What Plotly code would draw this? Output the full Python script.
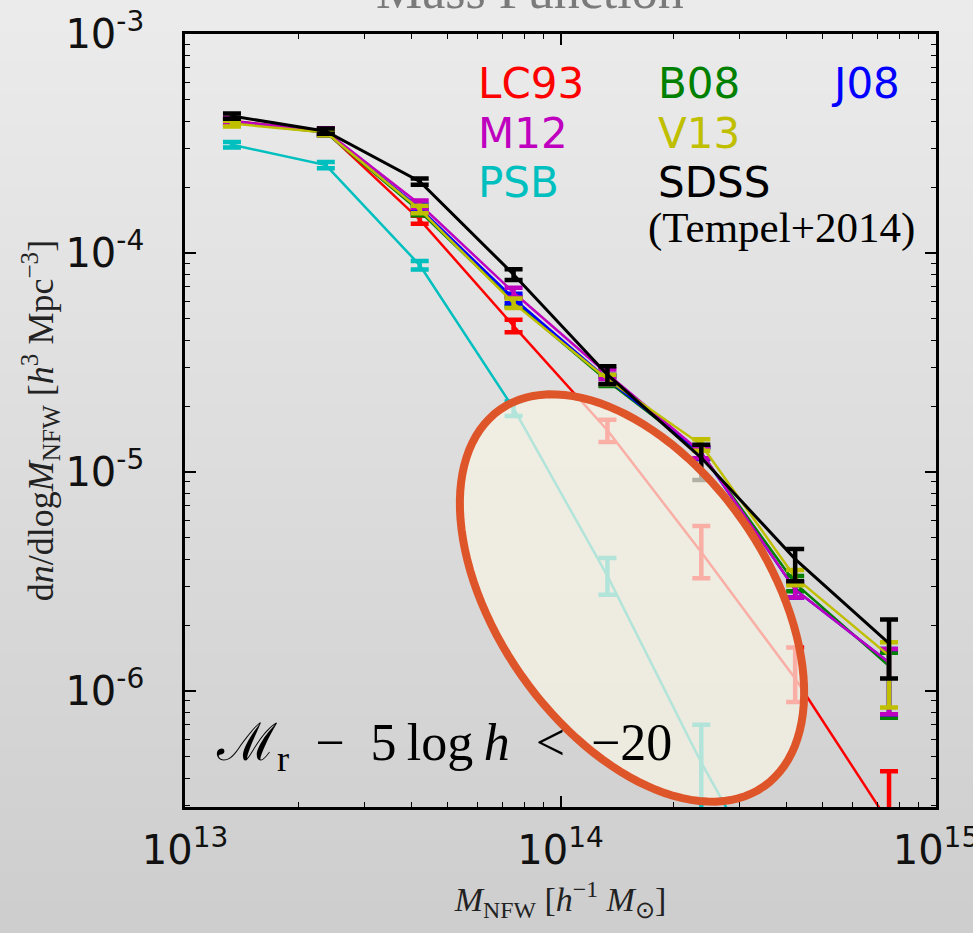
import numpy as np
import plotly.graph_objects as go

# ---------------- data ----------------
log_mass = [13.125, 13.375, 13.625, 13.875, 14.125, 14.375, 14.625, 14.875]
mass = [10 ** v for v in log_mass]

lc93 = [4.02e-4, 3.58e-4, 1.42e-4, 4.65e-5, 1.55e-5, 4.3e-6, 1.14e-6, 2.5e-7]
lc93_up = [1.2e-5, 1.0e-5, 6e-6, 3e-6, 1.8e-6, 1.36e-6, 0.44e-6, 0.18e-6]
lc93_dn = [1.2e-5, 1.0e-5, 6e-6, 3e-6, 1.8e-6, 1.03e-6, 0.25e-6, 2.3e-7]

b08 = [3.95e-4, 3.55e-4, 1.55e-4, 6.0e-5, 2.6e-5, 1.22e-5, 3.1e-6, 1.3e-6]
j08 = [4.0e-4, 3.55e-4, 1.6e-4, 6.2e-5, 2.65e-5, 1.22e-5, 2.9e-6, 1.35e-6]
m12 = [4.0e-4, 3.6e-4, 1.67e-4, 6.6e-5, 2.8e-5, 1.23e-5, 2.9e-6, 1.35e-6]
v13 = [3.9e-4, 3.55e-4, 1.58e-4, 5.9e-5, 2.65e-5, 1.33e-5, 3.3e-6, 1.45e-6]
model_up_frac = [0.03, 0.03, 0.04, 0.05, 0.05, 0.06, 0.08, 0.15]
model_dn_frac = [0.03, 0.03, 0.04, 0.05, 0.05, 0.06, 0.08, 0.42]

psb = [3.12e-4, 2.52e-4, 8.8e-5, 1.95e-5, 3.35e-6, 4.7e-7, 8e-8, 2e-8]
psb_up = [9e-6, 8e-6, 4e-6, 1.5e-6, 0.7e-6, 2.3e-7, 0, 0]
psb_dn = [9e-6, 8e-6, 4e-6, 1.5e-6, 0.6e-6, 4.5e-7, 0, 0]

sdss = [4.22e-4, 3.6e-4, 2.12e-4, 7.98e-5, 2.78e-5, 1.16e-5, 4.0e-6, 1.65e-6]
sdss_up = [1.2e-5, 1.0e-5, 7e-6, 4.5e-6, 2.6e-6, 1.7e-6, 0.45e-6, 0.47e-6]
sdss_dn = [1.2e-5, 1.0e-5, 7e-6, 4.5e-6, 2.6e-6, 2.4e-6, 0.83e-6, 0.51e-6]

x_ticks = [1e13, 1e14, 1e15]
x_ticktext = ["10<sup>13</sup>", "10<sup>14</sup>", "10<sup>15</sup>"]
y_ticks = [1e-6, 1e-5, 1e-4, 1e-3]
y_ticktext = ["10<sup>-6</sup>", "10<sup>-5</sup>", "10<sup>-4</sup>", "10<sup>-3</sup>"]

# ---------------- layout geometry ----------------
W, H = 973, 933
L, R, T, B = 185, 936, 34, 807
pw, ph = R - L, B - T


def X(px):
    return (px - L) / pw


def Y(py):
    return (B - py) / ph


fig = go.Figure()


def add_series(name, vals, up, dn, color, lw=2.5):
    fig.add_trace(go.Scatter(
        x=mass, y=vals, mode="lines", name=name,
        line=dict(color=color, width=lw),
        error_y=dict(type="data", symmetric=False, array=up, arrayminus=dn,
                     color=color, thickness=4.5, width=9),
        showlegend=False,
    ))


def frac(vals, f):
    return [v * q for v, q in zip(vals, f)]


add_series("LC93", lc93, lc93_up, lc93_dn, "#ff0000")
add_series("B08", b08, frac(b08, model_up_frac), frac(b08, model_dn_frac), "#008000")
add_series("J08", j08, frac(j08, model_up_frac), frac(j08, model_dn_frac), "#0000ff")
add_series("M12", m12, frac(m12, model_up_frac), frac(m12, model_dn_frac), "#bf00bf")
add_series("V13", v13, frac(v13, model_up_frac), frac(v13, model_dn_frac), "#bfbf00")
add_series("PSB", psb, psb_up, psb_dn, "#00bfbf")
add_series("SDSS", sdss, sdss_up, sdss_dn, "#000000", lw=3)

# ---------------- background gradient ----------------
shapes = []
nb = 60
top_c = np.array([236, 236, 236])
bot_c = np.array([206, 206, 206])
for i in range(nb):
    y0 = i * H / nb
    y1 = (i + 1) * H / nb + 1
    t = (i + 0.5) / nb
    c = (top_c * (1 - t) + bot_c * t).astype(int)
    shapes.append(dict(type="rect", xref="paper", yref="paper", layer="below",
                       x0=X(0), x1=X(W), y0=Y(y1), y1=Y(y0),
                       line=dict(width=0), fillcolor=f"rgb({c[0]},{c[1]},{c[2]})"))

# ---------------- highlight ellipse ----------------
cx, cy, a, b = 632, 598, 230, 135
th = np.deg2rad(55)
phi = np.linspace(0, 2 * np.pi, 120, endpoint=False)
ex = cx + a * np.cos(phi) * np.cos(th) - b * np.sin(phi) * np.sin(th)
ey = cy + a * np.cos(phi) * np.sin(th) + b * np.sin(phi) * np.cos(th)
path = "M " + " L ".join(f"{X(px):.5f},{Y(py):.5f}" for px, py in zip(ex, ey)) + " Z"
shapes.append(dict(type="path", xref="paper", yref="paper", layer="above", path=path,
                   fillcolor="rgba(246,242,228,0.72)",
                   line=dict(color="#df552a", width=8)))

# ---------------- annotations ----------------
ann = []
sans = "DejaVu Sans"
serif = "Liberation Serif"


def txt(s, px, py, color, size, font=sans, xanchor="left"):
    ann.append(dict(text=s, x=X(px), y=Y(py), xref="paper", yref="paper",
                    xanchor=xanchor, yanchor="middle", showarrow=False,
                    font=dict(family=font, size=size, color=color)))


txt("LC93", 476, 84, "#ff0000", 42)
txt("B08", 656, 84, "#008000", 42)
txt("J08", 829, 84, "#0000ff", 42)
txt("M12", 476, 133, "#bf00bf", 42)
txt("V13", 656, 133, "#bfbf00", 42)
txt("PSB", 476, 182, "#00bfbf", 42)
txt("SDSS", 656, 182, "#000000", 42)
txt("(Tempel+2014)", 646, 228, "#000000", 43, font=serif)
txt("\u2133<sub>r</sub>\u2002\u2212\u20025\u2009log\u2009<i>h</i>\u2002&lt;\u2002\u221220",
    214, 746, "#000000", 52, font=serif)
txt("Mass Function", 530, -9, "#7a7a7a", 52, font=serif, xanchor="center")

fig.update_layout(
    width=W, height=H,
    margin=dict(l=L, r=W - R, t=T, b=H - B, pad=0, autoexpand=False),
    paper_bgcolor="#dedede",
    plot_bgcolor="rgba(0,0,0,0)",
    shapes=shapes,
    annotations=ann,
    showlegend=False,
)

minor_x = [k * 10 ** d for d in (13, 14) for k in range(2, 10)]
minor_y = [k * 10 ** d for d in (-7, -6, -5, -4) for k in range(2, 10)]

fig.update_xaxes(
    type="log", range=[12.9999, 15.0001], showgrid=False, zeroline=False,
    automargin=False,
    showline=True, linecolor="black", linewidth=2.5, mirror="allticks",
    ticks="inside", ticklen=11, tickwidth=1.5, tickcolor="black",
    tickmode="array", tickvals=x_ticks, ticktext=x_ticktext,
    tickfont=dict(family=sans, size=40, color="#111111"),
    ticklabelstandoff=6, ticklabeloverflow="allow",
    minor=dict(ticks="inside", ticklen=5, tickwidth=1.2, tickcolor="black",
               tickmode="array", tickvals=minor_x, showgrid=False),
    title=dict(text="<i>M</i><sub>NFW</sub> [<i>h</i><sup>\u22121</sup> <i>M</i><sub>\u2299</sub>]",
               font=dict(family=serif, size=34, color="#222222"), standoff=16),
)
fig.update_yaxes(
    type="log", range=[-6.5301, -2.9999], showgrid=False, zeroline=False,
    automargin=False,
    showline=True, linecolor="black", linewidth=2.5, mirror="allticks",
    ticks="inside", ticklen=11, tickwidth=1.5, tickcolor="black",
    tickmode="array", tickvals=y_ticks, ticktext=y_ticktext,
    tickfont=dict(family=sans, size=40, color="#111111"),
    ticklabelstandoff=30, ticklabeloverflow="allow",
    minor=dict(ticks="inside", ticklen=5, tickwidth=1.2, tickcolor="black",
               tickmode="array", tickvals=minor_y, showgrid=False),
    title=dict(text="d<i>n</i>/dlog<i>M</i><sub>NFW</sub> [<i>h</i><sup>3</sup> Mpc<sup>\u22123</sup>]",
               font=dict(family=serif, size=36, color="#222222"), standoff=0),
)

fig.write_html("out.html", config={"displayModeBar": False},
               post_script="document.body.style.margin='0';document.body.style.overflow='hidden';")
